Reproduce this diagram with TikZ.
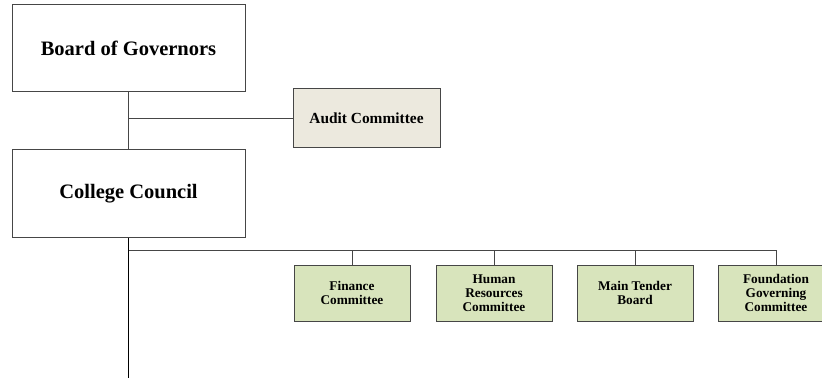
\documentclass[tikz,border=0pt]{standalone}
\usepackage{fontspec}
\setmainfont{Liberation Serif}
\usetikzlibrary{positioning}
\definecolor{auditfill}{RGB}{236,233,222}
\definecolor{cmtfill}{RGB}{216,228,188}
\definecolor{linegray}{RGB}{70,70,70}

\begin{document}
\begin{tikzpicture}[x=1pt,y=1pt,line width=1pt,
  every node/.style={draw=linegray,align=center,inner sep=0pt,font=\bfseries},
  topbox/.style={minimum width=233pt,minimum height=87pt,font=\fontsize{20.5}{24}\selectfont\bfseries},
  auditbox/.style={fill=auditfill,minimum width=147pt,minimum height=59pt,font=\fontsize{15.4}{17}\selectfont\bfseries},
  cmtbox/.style={fill=cmtfill,minimum width=116pt,minimum height=56pt,font=\fontsize{13.3}{13.8}\selectfont\bfseries}]
\useasboundingbox (0,0) rectangle (822,378);
\node [topbox] (Board) at (128.5,329.5) {Board of Governors};
\node [topbox] (Council) at (128.5,184.5) {College Council};
\node [auditbox] (Audit) at (366.5,259.5) {Audit Committee};
\node [cmtbox] (Finance) at (352,85) {Finance\\Committee};
\node [cmtbox] (HumanRes) at (494,85) {Human\\Resources\\Committee};
\node [cmtbox] (Tender) at (635,85) {Main Tender\\Board};
\node [cmtbox] (Foundation) at (776,85) {Foundation\\Governing\\Committee};
\coordinate (Bus) at (Council.south |- 0,128);
\coordinate (Bottom) at (Council.south |- 0,0);
\draw [linegray] (Board.south) -- (Council.north);
\draw [linegray] (Audit.west) -- (Audit.west -| Board.south);
\draw (Council.south) -- (Bottom);
\draw [linegray] (Bus) -| (Foundation.north);
\foreach \cmt in {Finance,HumanRes,Tender}
  \draw [linegray] (\cmt.north) -- (\cmt.north |- Bus);
\end{tikzpicture}
\end{document}
